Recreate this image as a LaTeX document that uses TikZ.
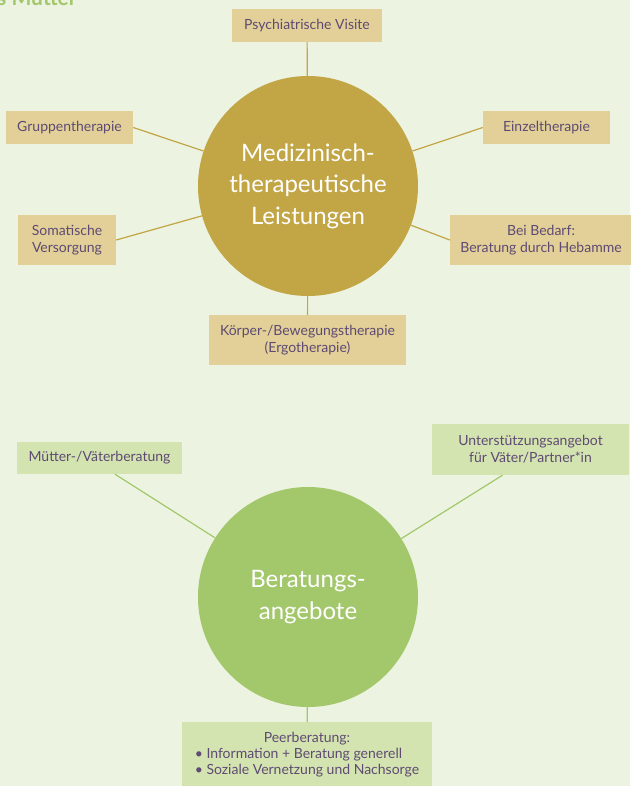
\documentclass[tikz,border=0pt]{standalone}
\usepackage{fontspec}
\setmainfont{Lato}
\definecolor{bg}{HTML}{ECF3E0}
\definecolor{gold}{HTML}{C2A545}
\definecolor{goldbox}{HTML}{E2D098}
\definecolor{grn}{HTML}{A3C76B}
\definecolor{grnbox}{HTML}{D3E4B1}
\definecolor{txt}{HTML}{5E4A72}
\begin{document}
\begin{tikzpicture}[x=1pt,y=-1pt,
  ybox/.style={fill=goldbox,draw=none,text=txt,font=\fontsize{14}{17}\selectfont,align=center,inner sep=0pt},
  gbox/.style={fill=grnbox,draw=none,text=txt,font=\fontsize{14}{17}\selectfont,align=center,inner sep=0pt},
  bigc/.style={circle,draw=none,minimum size=220pt,inner sep=0pt,text=white,align=center,font=\fontsize{24}{31.5}\selectfont},
  yline/.style={draw=gold,line width=1.2pt},
  gline/.style={draw=grn,line width=1.2pt}]
\useasboundingbox (0,0) rectangle (630,786);
\fill[bg] (0,0) rectangle (630,786);
\node[anchor=base west,text=grn,font=\fontsize{21}{21}\selectfont\bfseries,inner sep=0pt] (title) at (-3,6) {s Mütter};

% upper cluster
\node[bigc,fill=gold] (c1) at (308,186) {Medizinisch-\\therapeutische\\Leistungen};
\node[ybox,minimum width=150pt,minimum height=33pt] (psych) at (307,25.5) {Psychiatrische Visite};
\node[ybox,minimum width=127pt,minimum height=33pt] (grp) at (69.5,127.5) {Gruppentherapie};
\node[ybox,minimum width=127pt,minimum height=33pt] (einz) at (546.5,127.5) {Einzeltherapie};
\node[ybox,minimum width=98pt,minimum height=50pt] (soma) at (67,240) {Somatische\\Versorgung};
\node[ybox,minimum width=182pt,minimum height=50pt] (heb) at (541,240) {Bei Bedarf:\\Beratung durch Hebamme};
\node[ybox,minimum width=197pt,minimum height=50pt] (koer) at (307.5,340) {Körper-/Bewegungstherapie\\(Ergotherapie)};

\draw[yline] (c1) -- (psych);
\draw[yline] (c1) -- (grp.east);
\draw[yline] (c1) -- (einz.west);
\draw[yline] (c1) -- (soma.east);
\draw[yline] (c1) -- (heb.west);
\draw[yline] (c1) -- (koer);

% lower cluster
\node[bigc,fill=grn] (c2) at (308,597) {Beratungs-\\angebote};
\node[gbox,minimum width=165pt,minimum height=32pt] (mv) at (99.5,458) {Mütter-/Väterberatung};
\node[gbox,minimum width=197pt,minimum height=51pt] (unt) at (530.5,449.5) {Unterstützungsangebot\\für Väter/Partner*in};
\node[gbox,anchor=north,minimum width=250pt,minimum height=66pt] (peer) at (307,722)
  {\begin{tabular}{@{}l@{}}\multicolumn{1}{c}{Peerberatung:}\\[-1pt] • Information + Beratung generell\\[-1pt] • Soziale Vernetzung und Nachsorge\end{tabular}};

\draw[gline] (c2) -- ([xshift=15.5pt]mv.south);
\draw[gline] (c2) -- ([xshift=-28pt]unt.south);
\draw[gline] (c2) -- (peer);
\end{tikzpicture}
\end{document}
